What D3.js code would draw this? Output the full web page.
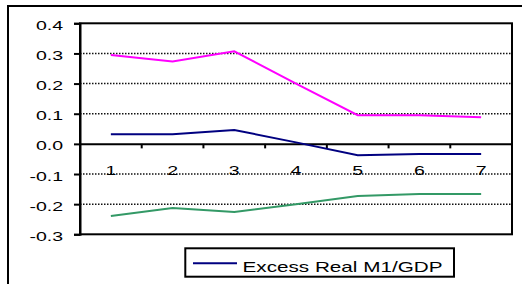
<!DOCTYPE html>
<html>
<head>
<meta charset="utf-8">
<script src="https://cdn.jsdelivr.net/npm/d3@7"></script>
<style>
  html, body { margin: 0; padding: 0; background: #fff; }
  svg { display: block; }
  text { font-family: "Liberation Sans", Arial, sans-serif; fill: #000; }
</style>
</head>
<body>
<svg id="chart" width="522" height="284"></svg>
<script>
// ---- data ----
const categories = ["1", "2", "3", "4", "5", "6", "7"];
const excessRealM1GDP = [0.032, 0.032, 0.046, 0.005, -0.038, -0.034, -0.034];
const upperSeries = [0.295, 0.273, 0.307, 0.200, 0.095, 0.095, 0.088];
const lowerSeries = [-0.239, -0.213, -0.226, -0.200, -0.173, -0.166, -0.166];
const yTicks = [0.4, 0.3, 0.2, 0.1, 0.0, -0.1, -0.2, -0.3];
const yTickLabels = ["0.4", "0.3", "0.2", "0.1", "0.0", "-0.1", "-0.2", "-0.3"];
const gridTicks = [0.3, 0.2, 0.1, -0.1, -0.2];
const legendLabel = "Excess Real M1/GDP";

const series = [
  { values: upperSeries, color: "#FF00FF" },
  { values: lowerSeries, color: "#339966" },
  { values: excessRealM1GDP, color: "#000080" }
];

// ---- layout ----
const svg = d3.select("#chart");
const plot = { left: 80, right: 512, top: 23.3, bottom: 234.3 };

const x = d3.scaleBand().domain(categories).range([plot.left, plot.right]).paddingInner(0).paddingOuter(0);
const y = d3.scaleLinear().domain([-0.3, 0.4]).range([plot.bottom, plot.top]);

// outer frame
svg.append("rect")
  .attr("x", 8).attr("y", 6).attr("width", 540).attr("height", 300)
  .attr("fill", "none").attr("stroke", "#000").attr("stroke-width", 2);

// gridlines
svg.append("g").selectAll("line").data(gridTicks).join("line")
  .attr("x1", plot.left).attr("x2", plot.right)
  .attr("y1", d => y(d)).attr("y2", d => y(d))
  .attr("stroke", "#111").attr("stroke-width", 1.5)
  .attr("stroke-dasharray", "1.5,1.5");

// x tick labels at band centers
svg.append("g").selectAll("text").data(categories).join("text")
  .attr("transform", d => `translate(${x(d) + x.bandwidth() / 2},${y(-0.1) + 0.6}) scale(1.45,1)`)
  .attr("text-anchor", "middle")
  .style("font-size", "13.5px")
  .text(d => d);

// plot border
svg.append("rect")
  .attr("x", plot.left).attr("y", plot.top)
  .attr("width", plot.right - plot.left).attr("height", plot.bottom - plot.top)
  .attr("fill", "none").attr("stroke", "#000").attr("stroke-width", 2);

// y axis ticks + labels
const yAxis = d3.axisLeft(y).tickValues(yTicks).tickSize(6).tickFormat("");
const ya = svg.append("g").attr("transform", `translate(${plot.left},0)`).call(yAxis);
ya.select(".domain").attr("stroke", "#000").attr("stroke-width", 2);
ya.selectAll(".tick line").attr("stroke", "#000").attr("stroke-width", 2);
ya.selectAll(".tick text").remove();
svg.append("g").selectAll("text").data(yTicks).join("text")
  .attr("transform", d => `translate(63,${y(d) + 6.6}) scale(1.5,1)`)
  .attr("text-anchor", "end")
  .style("font-size", "13px")
  .text((d, i) => yTickLabels[i]);

// zero axis with downward ticks at band boundaries
const xAxis = d3.axisBottom(x).tickSize(0).tickFormat("");
const xa = svg.append("g").attr("transform", `translate(0,${y(0)})`).call(xAxis);
xa.select(".domain").attr("stroke", "#000").attr("stroke-width", 2);
xa.selectAll(".tick").remove();
const bounds = categories.slice(1).map(c => x(c));
xa.selectAll("line.b").data(bounds).join("line").attr("class", "b")
  .attr("x1", d => d).attr("x2", d => d).attr("y1", 0).attr("y2", 4.5)
  .attr("stroke", "#000").attr("stroke-width", 2);

// series lines
const line = d3.line()
  .x((d, i) => x(categories[i]) + x.bandwidth() / 2)
  .y(d => y(d));
svg.append("g").selectAll("path").data(series).join("path")
  .attr("d", s => line(s.values))
  .attr("fill", "none")
  .attr("stroke", s => s.color)
  .attr("stroke-width", 2);

// legend
const lg = svg.append("g");
lg.append("rect")
  .attr("x", 185.3).attr("y", 248.3).attr("width", 268.7).attr("height", 28.4)
  .attr("fill", "#fff").attr("stroke", "#000").attr("stroke-width", 2);
lg.append("line")
  .attr("x1", 193).attr("x2", 237).attr("y1", 263.3).attr("y2", 263.3)
  .attr("stroke", "#000080").attr("stroke-width", 2);
lg.append("text")
  .attr("x", 242.5).attr("y", 272.3)
  .attr("textLength", 200).attr("lengthAdjust", "spacingAndGlyphs")
  .style("font-size", "15px")
  .text(legendLabel);
</script>
</body>
</html>
